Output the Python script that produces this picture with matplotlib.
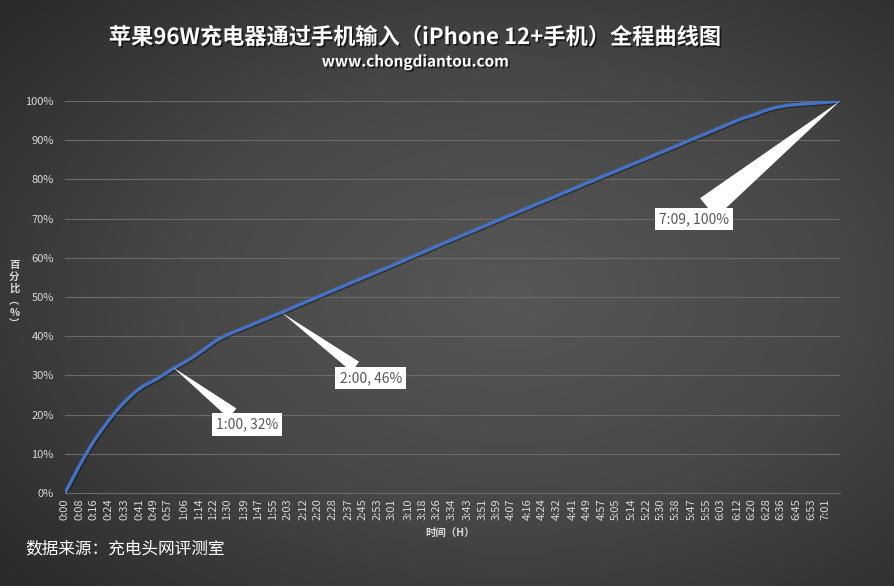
import matplotlib
matplotlib.use("Agg")
import matplotlib.pyplot as plt
import matplotlib.patheffects as pe
from matplotlib.colors import LinearSegmentedColormap
from matplotlib.ticker import PercentFormatter
import numpy as np

plt.rcParams['font.family'] = ['Noto Sans CJK SC', 'DejaVu Sans']
plt.rcParams['axes.unicode_minus'] = False

# 数据：时间（分钟）与电量百分比
minutes = [0, 4, 8, 12, 16, 20, 24, 28, 32, 36, 40, 44, 48, 52, 56, 60, 66,
           72, 78, 84, 90, 100, 110, 120, 150, 180, 210, 240, 270, 300, 330,
           360, 375, 381, 387, 393, 400, 410, 420, 429]
percent = [0, 3.5, 7, 10.2, 13.3, 15.9, 18.4, 20.7, 22.8, 24.6, 26.2, 27.5,
           28.4, 29.4, 30.6, 31.8, 33.3, 35, 37, 39, 40.4, 42.3, 44.2, 46.1,
           52, 57.8, 63.8, 69.6, 75.4, 81.2, 86.9, 92.7, 95.6, 96.4, 97.5,
           98.3, 98.9, 99.3, 99.6, 100]

tick_labels = ["0:00", "0:08", "0:16", "0:24", "0:33", "0:41", "0:49", "0:57",
               "1:06", "1:14", "1:22", "1:30", "1:39", "1:47", "1:55", "2:03",
               "2:12", "2:20", "2:28", "2:37", "2:45", "2:53", "3:01", "3:10",
               "3:18", "3:26", "3:34", "3:43", "3:51", "3:59", "4:07", "4:16",
               "4:24", "4:32", "4:41", "4:49", "4:57", "5:05", "5:14", "5:22",
               "5:30", "5:38", "5:47", "5:55", "6:03", "6:12", "6:20", "6:28",
               "6:36", "6:45", "6:53", "7:01"]

notes = [("1:00, 32%", 60, 32, (53, -41), 0.45),
         ("2:00, 46%", 120, 46, (64, -47), 0.45),
         ("7:09, 100%", 429, 100, (-105, -85), 0.9)]

title = "苹果96W充电器通过手机输入（iPhone 12+手机）全程曲线图"
subtitle = "www.chongdiantou.com"
source = "数据来源：充电头网评测室"
ylabel_chars = ["百", "分", "比", "︵", "%", "︶"]

fig = plt.figure(figsize=(8.95, 5.86), dpi=100)

# 径向渐变背景
bg = fig.add_axes([0, 0, 1, 1], zorder=-1)
gx, gy = np.meshgrid(np.linspace(0, 1, 400), np.linspace(0, 1, 300))
r = np.sqrt(((gx - 0.57) / 0.75) ** 2 + ((gy - 0.5) / 0.75) ** 2)
cmap = LinearSegmentedColormap.from_list("bg", ["#575757", "#474747", "#2a2a2a"])
bg.imshow(np.clip(r, 0, 1), cmap=cmap, vmin=0, vmax=1, aspect='auto',
          extent=[0, 1, 0, 1], origin='lower')
bg.axis('off')

ax = fig.add_axes([0.0726, 0.1587, 0.8659, 0.6689])
ax.set_facecolor('none')

ax.plot(minutes, percent, color='#4472C4', lw=2.4, solid_capstyle='round',
        path_effects=[pe.SimpleLineShadow(offset=(0.8, -0.8), alpha=0.4),
                      pe.Normal()])

ax.set_xlim(0, 429)
ax.set_ylim(0, 100)
ax.set_yticks(range(0, 101, 10))
ax.yaxis.set_major_formatter(PercentFormatter(decimals=0))

tick_pos = [int(t.split(':')[0]) * 60 + int(t.split(':')[1]) for t in tick_labels]
ax.set_xticks(tick_pos)
ax.set_xticklabels(tick_labels, rotation=90)

ax.grid(axis='y', color='#6a6a6a', lw=0.8)
ax.set_axisbelow(True)
for s in ['top', 'right', 'left']:
    ax.spines[s].set_visible(False)
ax.spines['bottom'].set_color('#6a6a6a')
ax.tick_params(axis='both', length=0, colors='#d9d9d9', labelsize=8)
ax.tick_params(axis='x', pad=4)
ax.tick_params(axis='y', pad=8)

for text, mx, my, off, tw in notes:
    ax.annotate(text, xy=(mx, my), xytext=off, textcoords='offset points',
                ha='center', va='center', fontsize=10, color='#595959',
                bbox=dict(boxstyle='square,pad=0.3', fc='white', ec='none'),
                arrowprops=dict(arrowstyle=f'wedge,tail_width={tw}',
                                mutation_scale=20, fc='white', ec='none',
                                shrinkA=0, shrinkB=0))

shadow = [pe.SimplePatchShadow(offset=(1.2, -1.2), shadow_rgbFace='black',
                               alpha=0.6), pe.Normal()]
fig.text(0.464, 0.936, title, ha='center', va='center', fontsize=16,
         fontweight='bold', color='white', path_effects=shadow)
fig.text(0.464, 0.895, subtitle, ha='center', va='center', fontsize=11,
         fontweight='bold', color='white', path_effects=shadow)
fig.text(0.028, 0.063, source, ha='left', va='center', fontsize=12,
         color='white')
fig.text(0.503, 0.091, "时间（H）", ha='center', va='center', fontsize=7.5,
         fontweight='bold', color='#d9d9d9')
for i, ch in enumerate(ylabel_chars):
    fig.text(0.016, 0.548 - i * 0.0205, ch, ha='center', va='center',
             fontsize=7.5, fontweight='bold', color='#d9d9d9')

fig.savefig("out.png", dpi=100)
